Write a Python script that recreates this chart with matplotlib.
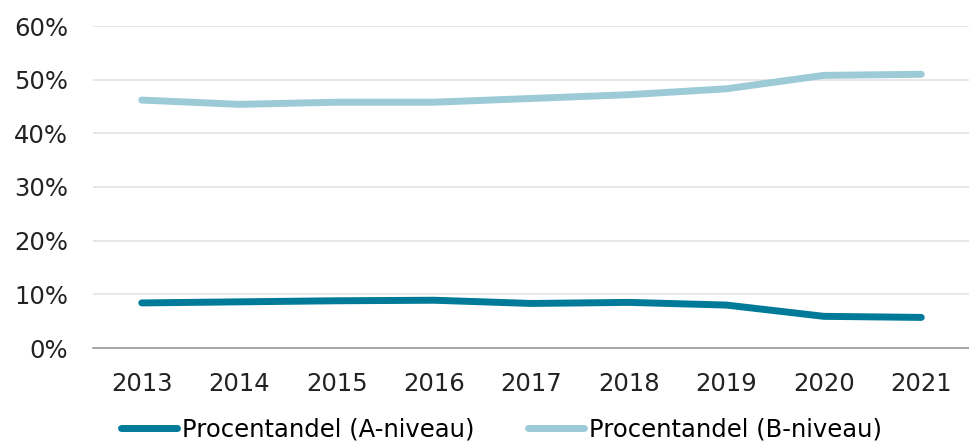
import matplotlib
matplotlib.use("Agg")
import matplotlib.pyplot as plt
from matplotlib.ticker import FuncFormatter

years = ["2013", "2014", "2015", "2016", "2017", "2018", "2019", "2020", "2021"]
a_niveau = [8.4, 8.6, 8.8, 8.9, 8.3, 8.5, 8.0, 5.9, 5.7]
b_niveau = [46.2, 45.4, 45.8, 45.8, 46.5, 47.2, 48.3, 50.8, 51.0]
labels = ["Procentandel (A-niveau)", "Procentandel (B-niveau)"]
colors = ["#007A99", "#9DCAD7"]

fig = plt.figure(figsize=(9.70, 4.46), dpi=100)
ax = fig.add_axes([93/970, 1 - 348/446, (970 - 93) / 970, (348 - 26) / 446])

x = list(range(len(years)))
ax.plot(x, a_niveau, color=colors[0], lw=5, solid_capstyle="round", solid_joinstyle="round", label=labels[0])
ax.plot(x, b_niveau, color=colors[1], lw=5, solid_capstyle="round", solid_joinstyle="round", label=labels[1])

ax.set_xlim(-0.5, len(years) - 0.5)
ax.set_ylim(0, 60)
ax.set_yticks(range(0, 61, 10))
ax.yaxis.set_major_formatter(FuncFormatter(lambda v, p: f"{int(v)}%"))
ax.set_xticks(x)
ax.set_xticklabels(years)
ax.grid(axis="y", color="#E3E3E3", lw=1.2)
ax.set_axisbelow(True)
for s in ["top", "right", "left"]:
    ax.spines[s].set_visible(False)
ax.spines["bottom"].set_color("#9A9A9A")
ax.spines["bottom"].set_linewidth(1.2)
ax.tick_params(axis="both", length=0, labelsize=17.5, colors="#222222")
ax.tick_params(axis="y", pad=18)
ax.tick_params(axis="x", pad=17)

fig.legend(loc="lower center", bbox_to_anchor=(0.517, -0.038), ncol=2, frameon=False,
           fontsize=17.5, handlelength=2.3, handletextpad=0.2, columnspacing=2.2)

fig.savefig("out.png", dpi=100)
